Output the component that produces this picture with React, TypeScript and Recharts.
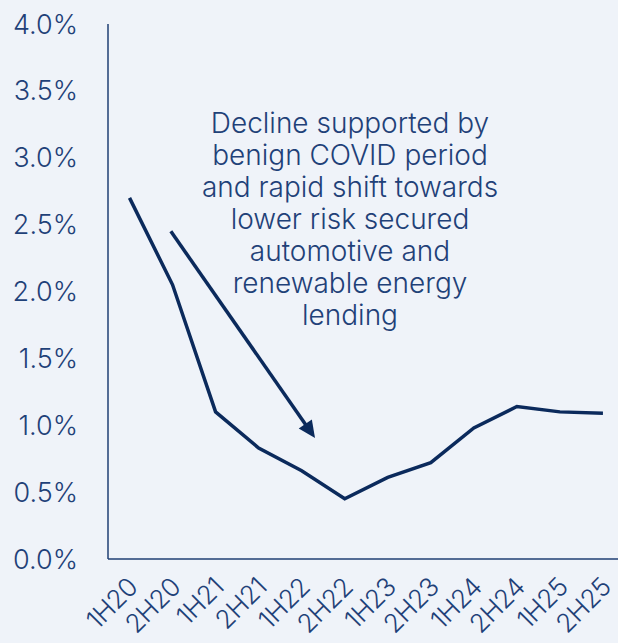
import { LineChart, Line, XAxis, YAxis, ReferenceLine } from "recharts";

const periods = ["1H20", "2H20", "1H21", "2H21", "1H22", "2H22", "1H23", "2H23", "1H24", "2H24", "1H25", "2H25"];
const lossRates = [2.7, 2.05, 1.1, 0.83, 0.66, 0.45, 0.61, 0.72, 0.98, 1.14, 1.1, 1.09];
const yTicks = [0, 0.5, 1, 1.5, 2, 2.5, 3, 3.5, 4];
const noteLines = [
  "Decline supported by",
  "benign COVID period",
  "and rapid shift towards",
  "lower risk secured",
  "automotive and",
  "renewable energy",
  "lending",
];
// arrow annotation, in chart units (period index, %)
const arrowFrom = { x: 0.96, y: 2.45 };
const arrowTo = { x: 4.31, y: 0.905 };

const data = periods.map((p, i) => ({ idx: i, period: p, rate: lossRates[i] }));

const NAVY = "#0B2A5C";
const TEXT = "#1F4178";
const BG = "#EFF3F9";
const FONT = "Inter, 'Open Sans', sans-serif";

const XTick = ({ x, y, payload }: any) => (
  <text
    x={x + 3}
    y={y + 15}
    transform={`rotate(-45 ${x + 3} ${y + 15})`}
    textAnchor="end"
    dominantBaseline="central"
    fill={TEXT}
    fontSize={26}
    fontWeight={300}
    letterSpacing={-0.5}
    fontFamily={FONT}
  >
    {periods[payload.value]}
  </text>
);

const Arrow = (props: any) => {
  const { x1, y1, x2, y2 } = props;
  const dx = x2 - x1;
  const dy = y2 - y1;
  const len = Math.sqrt(dx * dx + dy * dy);
  const ux = dx / len;
  const uy = dy / len;
  const head = 17;
  const half = 8;
  const bx = x2 - ux * head;
  const by = y2 - uy * head;
  return (
    <g>
      <line x1={x1} y1={y1} x2={bx + ux * 2} y2={by + uy * 2} stroke={NAVY} strokeWidth={3.5} />
      <polygon
        points={`${x2},${y2} ${bx - uy * half},${by + ux * half} ${bx + uy * half},${by - ux * half}`}
        fill={NAVY}
      />
    </g>
  );
};

export default function App() {
  return (
    <div style={{ position: "absolute", left: 0, top: 0, width: 618, height: 643, background: BG, overflow: "hidden" }}>
      <LineChart width={618} height={643} data={data} margin={{ top: 24, right: 0, bottom: 0, left: 0 }}>
        <XAxis
          dataKey="idx"
          type="number"
          domain={[-0.5, 11.35]}
          ticks={periods.map((_, i) => i)}
          allowDataOverflow
          height={84}
          tick={<XTick />}
          tickLine={false}
          axisLine={{ stroke: "#1F3F73", strokeWidth: 1.5 }}
          interval={0}
        />
        <YAxis
          width={108}
          domain={[0, 4]}
          ticks={yTicks}
          tickFormatter={(v: number) => v.toFixed(1) + "%"}
          tickLine={false}
          tickSize={0}
          tickMargin={30}
          axisLine={{ stroke: "#1F3F73", strokeWidth: 1.5 }}
          tick={{ fill: TEXT, fontSize: 27, fontWeight: 300, fontFamily: FONT }}
        />
        <ReferenceLine
          segment={[arrowFrom, arrowTo]}
          ifOverflow="visible"
          shape={Arrow}
        />
        <Line
          type="linear"
          dataKey="rate"
          stroke={NAVY}
          strokeWidth={3.5}
          dot={false}
          isAnimationActive={false}
        />
      </LineChart>
      <div
        style={{
          position: "absolute",
          left: 170,
          width: 360,
          top: 107,
          textAlign: "center",
          color: TEXT,
          fontFamily: FONT,
          fontWeight: 300,
          fontSize: 28,
          lineHeight: "32px",
        }}
      >
        {noteLines.map((l) => (
          <div key={l}>{l}</div>
        ))}
      </div>
    </div>
  );
}
